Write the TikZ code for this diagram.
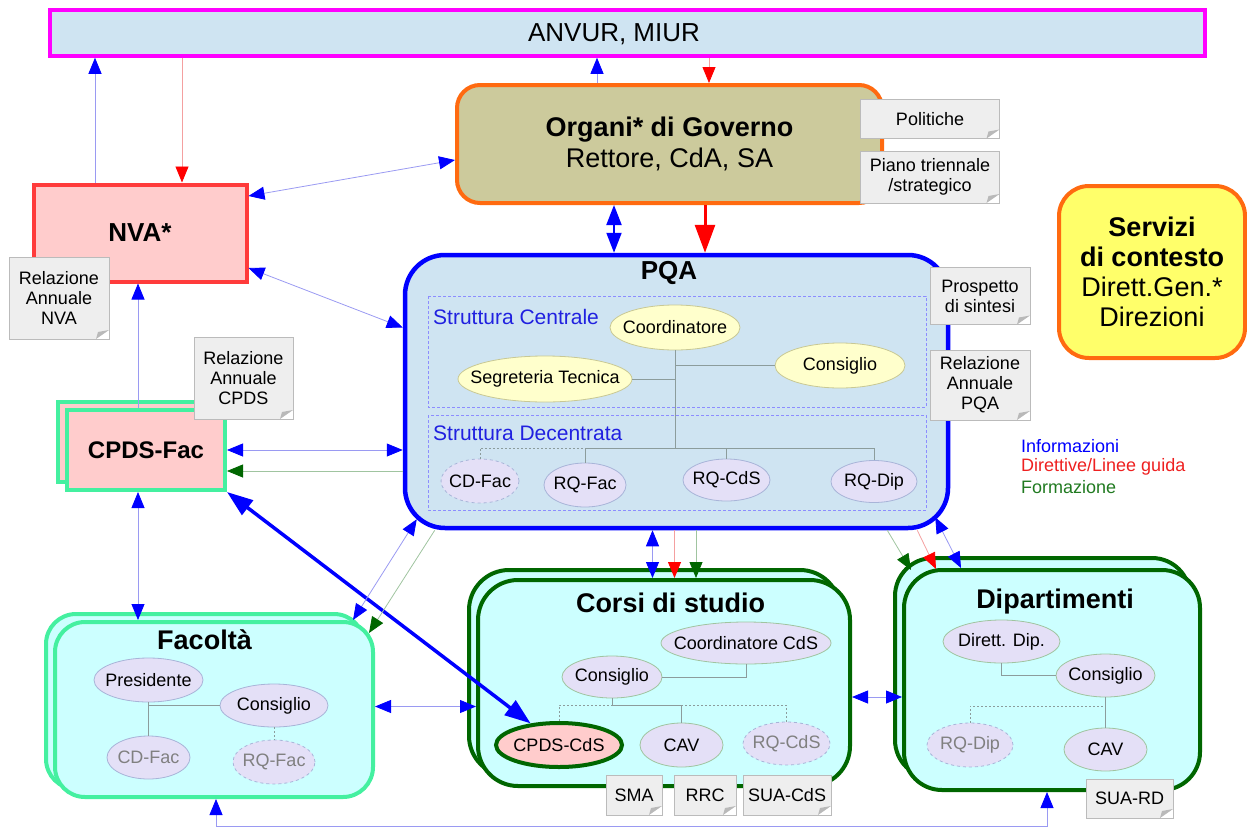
\documentclass[tikz,border=0pt]{standalone}
\usepackage{fontspec}
\setmainfont{Liberation Sans}
\usetikzlibrary{shapes.geometric,arrows.meta}

\definecolor{anvurfill}{HTML}{CFE4F2}
\definecolor{anvurline}{HTML}{FF00FF}
\definecolor{govfill}{HTML}{CCCA9C}
\definecolor{govline}{HTML}{FF6A10}
\definecolor{nvafill}{HTML}{FFCCCC}
\definecolor{nvaline}{HTML}{FF3B3B}
\definecolor{servfill}{HTML}{FFFF6A}
\definecolor{pqafill}{HTML}{CFE4F2}
\definecolor{pqaline}{HTML}{0000FF}
\definecolor{cdsfill}{HTML}{CCFFFF}
\definecolor{facline}{HTML}{44F0A0}
\definecolor{cdsline}{HTML}{006600}
\definecolor{ellfill}{HTML}{E4E0F7}
\definecolor{ellline}{HTML}{A8B4D8}
\definecolor{yelfill}{HTML}{FFFFCC}
\definecolor{yelline}{HTML}{C8C894}
\definecolor{docfill}{HTML}{EEEEEE}
\definecolor{docline}{HTML}{BBBBBB}
\definecolor{infcol}{HTML}{0000FF}
\definecolor{infline}{HTML}{9A9AF2}
\definecolor{dircol}{HTML}{FF0000}
\definecolor{dirline}{HTML}{F4A0A0}
\definecolor{frmcol}{HTML}{006600}
\definecolor{frmline}{HTML}{A0C4A0}
\definecolor{treeline}{HTML}{8C9C9C}
\definecolor{ghosttext}{HTML}{808080}
\definecolor{strblue}{HTML}{2020E0}
\definecolor{legred}{HTML}{EE2020}
\definecolor{leggreen}{HTML}{207A20}

\begin{document}
\begin{tikzpicture}[x=1pt,y=-1pt,
  box/.style={draw, line width=4pt, align=center},
  title/.style={font=\bfseries\fontsize{27}{31}\selectfont},
  ell/.style={ellipse, draw=ellline, fill=ellfill, line width=0.8pt, inner sep=0pt,
    font=\fontsize{18}{20}\selectfont,
    execute at begin node={\hbox to 0pt\bgroup\hss},
    execute at end node={\hss\egroup}},
  elly/.style={ell, draw=yelline, fill=yelfill},
  ghost/.style={dashed, text=ghosttext},
  docu/.style={rectangle, draw=docline, fill=docfill, line width=0.6pt, align=center,
    inner sep=2pt, font=\fontsize{18}{20}\selectfont,
    path picture={
      \fill[white] ([xshift=-13pt]path picture bounding box.south east)
        -- (path picture bounding box.south east)
        -- ([yshift=9pt]path picture bounding box.south east) -- cycle;
      \fill[gray!55] ([xshift=-13pt]path picture bounding box.south east)
        -- ([yshift=9pt]path picture bounding box.south east)
        -- ([xshift=-11pt,yshift=7pt]path picture bounding box.south east) -- cycle;}},
  tree/.style={draw=treeline, line width=0.8pt},
  treed/.style={tree, dash pattern=on 2pt off 2pt},
  frame/.style={draw=pqaline!45, line width=0.6pt, dash pattern=on 3pt off 2pt},
  tipI/.tip={Triangle[length=16pt,width=13pt,color=infcol,fill=infcol]},
  tipD/.tip={Triangle[length=16pt,width=13pt,color=dircol,fill=dircol]},
  tipF/.tip={Triangle[length=16pt,width=13pt,color=frmcol,fill=frmcol]},
  inf/.style={draw=infline, line width=0.8pt, -tipI},
  inf2/.style={draw=infline, line width=0.8pt, tipI-tipI},
  dir/.style={draw=dirline, line width=0.8pt, -tipD},
  frm/.style={draw=frmline, line width=0.8pt, -tipF}]
\useasboundingbox (0,0) rectangle (1247,827);

% top level
\node[box, draw=anvurline, fill=anvurfill, line width=3.5pt, minimum width=1155pt, minimum height=46pt] (anvur) at (627.5,33) {};
\node[font=\fontsize{26}{30}\selectfont] (anvurt) at (614,34) {ANVUR, MIUR};

\node[box, draw=govline, fill=govfill, rounded corners=23pt, minimum width=425pt, minimum height=118pt,
  font=\fontsize{27}{31.5}\selectfont] (gov) at (669.5,144) {\textbf{Organi* di Governo}\\Rettore, CdA, SA};
\node[docu, minimum width=139pt, minimum height=39pt] (pol) at (930,119) {Politiche};
\node[docu, minimum width=139pt, minimum height=52pt] (piano) at (930,177) {Piano triennale\\/strategico};

\node[box, draw=nvaline, fill=nvafill, minimum width=213pt, minimum height=97pt,
  font=\bfseries\fontsize{26}{30}\selectfont] (nva) at (140,233) {NVA*};
\node[docu, minimum width=100pt, minimum height=82pt] (relnva) at (59,298) {Relazione\\Annuale\\NVA};

\node[box, draw=govline, fill=servfill, rounded corners=30pt, minimum width=186pt, minimum height=172pt,
  font=\fontsize{27}{30}\selectfont] (serv) at (1152,272) {\textbf{Servizi}\\\textbf{di contesto}\\Dirett.Gen.*\\Direzioni};

% PQA
\node[box, draw=pqaline, fill=pqafill, line width=4.5pt, rounded corners=40pt, minimum width=543pt, minimum height=273pt] (pqa) at (676.5,391.5) {};
\node[font=\bfseries\fontsize{26}{30}\selectfont] (pqat) at (669,273) {PQA};
\draw[frame] (428,296) rectangle (926,407);
\draw[frame] (428,415) rectangle (926,510);
\node[anchor=west, inner sep=1pt, text=strblue, font=\fontsize{21}{24}\selectfont] (sct) at (432,317) {Struttura Centrale};
\node[anchor=west, inner sep=1pt, text=strblue, font=\fontsize{21}{24}\selectfont] (sdt) at (432,433) {Struttura Decentrata};
\node[elly, minimum width=130pt, minimum height=45pt] (coord) at (675,327.5) {Coordinatore};
\node[elly, minimum width=174pt, minimum height=46pt] (segr) at (545,379) {Segreteria Tecnica};
\node[elly, minimum width=130pt, minimum height=45pt] (cons) at (840,365.5) {Consiglio};
\node[ell, dashed, minimum width=78pt, minimum height=44pt] (cdfac) at (480,481) {CD-Fac};
\node[ell, minimum width=82pt, minimum height=44pt] (rqfac) at (585,485) {RQ-Fac};
\node[ell, minimum width=87pt, minimum height=42pt] (rqcds) at (726.5,480) {RQ-CdS};
\node[ell, minimum width=86pt, minimum height=42pt] (rqdip) at (874,481.5) {RQ-Dip};
\coordinate (jn) at (675,448);
\draw[treed] (cdfac.north) |- (jn);
\draw[tree] (segr.east) -| (coord.south);
\draw[tree] (cons.west) -| (coord.south);
\draw[tree] (coord.south) -- (jn);
\draw[tree] (rqfac.north) |- (jn);
\draw[tree] (rqcds.north) |- (jn);
\draw[tree] (rqdip.north) |- (jn);
\node[docu, minimum width=100pt, minimum height=57pt] (prosp) at (980,296) {Prospetto\\di sintesi};
\node[docu, minimum width=100pt, minimum height=70pt] (relpqa) at (980,385) {Relazione\\Annuale\\PQA};

% CPDS di facolta
\node[box, draw=facline, fill=nvafill, minimum width=158pt, minimum height=80pt] (cpdsB) at (137,442) {};
\node[box, draw=facline, fill=nvafill, minimum width=158pt, minimum height=80pt,
  font=\bfseries\fontsize{24}{28}\selectfont] (cpds) at (146,450) {CPDS-Fac};
\node[docu, minimum width=99pt, minimum height=82pt] (relcpds) at (243.5,378) {Relazione\\Annuale\\CPDS};

% Facolta
\node[box, draw=facline, fill=cdsfill, rounded corners=30pt, minimum width=318pt, minimum height=175pt] (facB) at (205,701.5) {};
\node[box, draw=facline, fill=cdsfill, rounded corners=30pt, minimum width=318pt, minimum height=175pt] (fac) at (214,709.5) {};
\node[title] (fact) at (204.5,640) {Facoltà};
\node[ell, minimum width=109pt, minimum height=44pt] (pres) at (148.5,680) {Presidente};
\node[ell, minimum width=108pt, minimum height=43pt] (consF) at (274,705.5) {Consiglio};
\node[ell, text=ghosttext, minimum width=83pt, minimum height=43pt] (cdfacF) at (148.5,757.5) {CD-Fac};
\node[ell, ghost, minimum width=82pt, minimum height=44pt] (rqfacF) at (274,762) {RQ-Fac};
\draw[tree] (consF.west) -| (pres.south);
\draw[tree] (pres.south) -- (cdfacF.north);
\draw[treed] (consF.south) -- (rqfacF.north);

% Corsi di studio
\node[box, draw=cdsline, fill=cdsfill, rounded corners=40pt, minimum width=371pt, minimum height=206pt] (corsiB) at (654.5,673) {};
\node[box, draw=cdsline, fill=cdsfill, rounded corners=40pt, minimum width=372pt, minimum height=206pt] (corsi) at (664,683) {};
\node[title] (corsit) at (670.5,603) {Corsi di studio};
\node[ell, draw=frmline, minimum width=170pt, minimum height=42pt] (coordC) at (746,643) {Coordinatore CdS};
\node[ell, draw=frmline, minimum width=100pt, minimum height=42pt] (consC) at (612,677) {Consiglio};
\node[ell, draw=cdsline, fill=nvafill, line width=4pt, minimum width=126pt, minimum height=44pt] (cpdsC) at (559,745) {CPDS-CdS};
\node[ell, draw=frmline, minimum width=83pt, minimum height=44pt] (cavC) at (681.5,745) {CAV};
\node[ell, ghost, minimum width=87pt, minimum height=43pt] (rqC) at (786.5,743.5) {RQ-CdS};
\coordinate (jc) at (612,705);
\draw[treed] (cpdsC.north) |- (jc);
\draw[treed] (rqC.north) |- (jc);
\draw[tree] (consC.east) -| (coordC.south);
\draw[tree] (consC.south) -- (jc) -| (cavC.north);
\node[docu, minimum width=56pt, minimum height=40pt] (sma) at (634,795) {SMA};
\node[docu, minimum width=62pt, minimum height=40pt] (rrc) at (705,795) {RRC};
\node[docu, minimum width=88pt, minimum height=40pt] (suacds) at (787,795) {SUA-CdS};

% Dipartimenti
\node[box, draw=cdsline, fill=cdsfill, rounded corners=38pt, minimum width=295pt, minimum height=220pt] (dipB) at (1042.5,668) {};
\node[box, draw=cdsline, fill=cdsfill, rounded corners=38pt, minimum width=296pt, minimum height=220pt] (dip) at (1052,680) {};
\node[title] (dipt) at (1055,602) {Dipartimenti};
\node[ell, draw=frmline, minimum width=117pt, minimum height=43pt] (dirD) at (1001.5,641.5) {Dirett. Dip.};
\node[ell, draw=frmline, minimum width=99pt, minimum height=43pt] (consD) at (1105.5,675.5) {Consiglio};
\node[ell, ghost, minimum width=86pt, minimum height=44pt] (rqD) at (970,745) {RQ-Dip};
\node[ell, draw=frmline, minimum width=83pt, minimum height=43pt] (cavD) at (1105.5,749.5) {CAV};
\coordinate (jd) at (1105.5,706);
\draw[treed] (rqD.north) |- (jd);
\draw[tree] (dirD.south) |- (consD.west);
\draw[tree] (consD.south) -- (cavD.north);
\node[docu, minimum width=87pt, minimum height=39pt] (suard) at (1129.5,798.5) {SUA-RD};

% legenda
\node[anchor=west, inner sep=1pt, text=infcol, font=\fontsize{18}{20}\selectfont] (leginf) at (1020,446) {Informazioni};
\node[anchor=west, inner sep=1pt, text=legred, font=\fontsize{18}{20}\selectfont] (legdir) at (1020,467) {Direttive/Linee guida};
\node[anchor=west, inner sep=1pt, text=leggreen, font=\fontsize{18}{20}\selectfont] (legfrm) at (1020,487) {Formazione};

% flussi
\draw[inf] ([xshift=-45pt]nva.north) -- ([xshift=-45pt]nva.north |- anvur.south);
\draw[dir] ([xshift=42pt]nva.north |- anvur.south) -- ([xshift=42pt]nva.north);
\draw[inf] ([xshift=-72.5pt]gov.north) -- ([xshift=-72.5pt]gov.north |- anvur.south);
\draw[dir] ([xshift=39.5pt]gov.north |- anvur.south) -- ([xshift=39.5pt]gov.north);
\draw[inf2] ([yshift=37pt]nva.east) -- ([yshift=-16pt]gov.west);
\draw[inf2] ([yshift=-35pt]nva.east) -- ([yshift=64pt]pqa.west);
\draw[draw=infcol, line width=2pt, {Triangle[length=20pt,width=15pt]}-{Triangle[length=20pt,width=15pt]}]
  ([xshift=-55.5pt]gov.south) -- ([xshift=-55.5pt]gov.south |- pqa.north);
\draw[draw=dircol, line width=3pt, -{Triangle[length=28pt,width=20pt]}]
  ([xshift=35.5pt]gov.south) -- ([xshift=35.5pt]gov.south |- pqa.north);
\draw[inf] ([xshift=-8pt]cpds.north) -- ([xshift=-8pt]cpds.north |- nva.south);
\draw[inf2] (cpds.east) -- (cpds.east -| pqa.west);
\draw[frm] ([yshift=-21pt]cpds.east -| pqa.west) -- ([yshift=-21pt]cpds.east);
\draw[inf2] ([xshift=-8pt]cpds.south) -- ([xshift=-8pt]cpds.south |- fac.north);
\draw[draw=infcol, line width=3.5pt, {Triangle[length=26pt,width=18pt]}-{Triangle[length=26pt,width=18pt]}]
  (cpds.south east) -- (cpdsC);
\draw[inf2] ([shift={(14pt,11pt)}]pqa.south west) -- ([xshift=-22pt]fac.north east);
\draw[frm] ([xshift=32pt]pqa.south west) -- ([shift={(-6pt,-13pt)}]fac.north east);
\draw[inf2] ([yshift=3pt]fac.east) -- ([yshift=3pt]fac.east -| corsi.west);
\draw[inf2] ([xshift=-24pt]pqa.south) -- ([xshift=-24pt]pqa.south |- corsi.north);
\draw[dir] ([xshift=-2pt]pqa.south) -- ([xshift=-2pt]pqa.south |- corsi.north);
\draw[frm] ([xshift=19.5pt]pqa.south) -- ([xshift=19.5pt]pqa.south |- corsi.north);
\draw[inf2] ([yshift=-14pt]corsi.east) -- ([yshift=-14pt]corsi.east -| dip.west);
\draw[frm] ([xshift=-63pt]pqa.south east) -- ([shift={(9pt,-2pt)}]dip.north west);
\draw[dir] ([xshift=-33pt]pqa.south east) -- ([shift={(34pt,-1pt)}]dip.north west);
\draw[inf2] ([shift={(-15pt,13pt)}]pqa.south east) -- ([xshift=59pt]dip.north west);
\draw[inf2] ([xshift=2pt]fac.south) -- ++(0,27) -| ([xshift=-5pt]dip.south);
\end{tikzpicture}
\end{document}
